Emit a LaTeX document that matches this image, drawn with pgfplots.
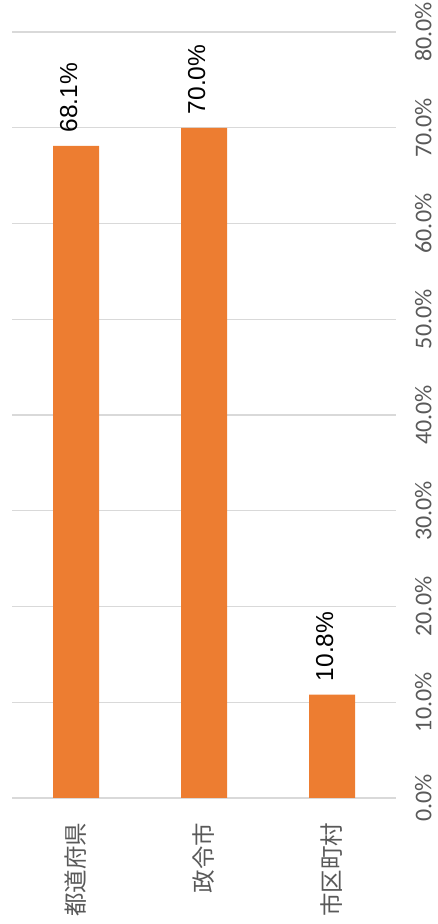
\documentclass[border=0pt]{standalone}
\usepackage{pgfplots}
\pgfplotsset{compat=1.18}
\usepackage{fontspec}
\setmainfont{Liberation Sans}
\newfontfamily\cjk{Noto Sans CJK JP}
\newfontfamily\tickfont{Carlito}
\definecolor{barc}{HTML}{ED7D31}
\definecolor{txt}{HTML}{595959}
\definecolor{gridc}{HTML}{D9D9D9}
\begin{document}
\begin{tikzpicture}[x=1pt,y=1pt]
\useasboundingbox (0,0) rectangle (437,924);
\begin{axis}[
  at={(12pt,126pt)}, anchor=south west,
  scale only axis, width=384pt, height=766pt,
  xmin=-0.5, xmax=2.5, ymin=0, ymax=80,
  xtick={0,1,2},
  xticklabels={都道府県,政令市,市区町村},
  ytick={0,10,...,80},
  axis x line=bottom, axis y line=right,
  y axis line style={draw=none},
  x axis line style={draw=gridc, line width=1.2pt, -},
  major tick length=0pt,
  ymajorgrids, grid style={draw=gridc, line width=1.2pt},
  yticklabel pos=right,
  /pgf/number format/assume math mode=true,
  yticklabel={\pgfmathprintnumber[fixed,fixed zerofill,precision=1]{\tick}\%},
  yticklabel style={rotate=90, anchor=north, yshift=-15.5pt, font=\tickfont\fontsize{24}{24}\selectfont, text=txt},
  xticklabel style={rotate=90, anchor=east, xshift=-21pt, font=\cjk\fontsize{23.5}{24}\selectfont, text=txt},
  ybar, bar width=46pt,
  nodes near coords={\pgfmathprintnumber[fixed,fixed zerofill,precision=1]{\pgfplotspointmeta}\%},
  nodes near coords style={rotate=90, anchor=base west, xshift=10pt, yshift=-1pt, font=\fontsize{24.5}{24}\selectfont, text=black},
]
\addplot[fill=barc, draw=none] coordinates {(0,68.1) (1,70.0) (2,10.8)};
\end{axis}
\end{tikzpicture}
\end{document}
